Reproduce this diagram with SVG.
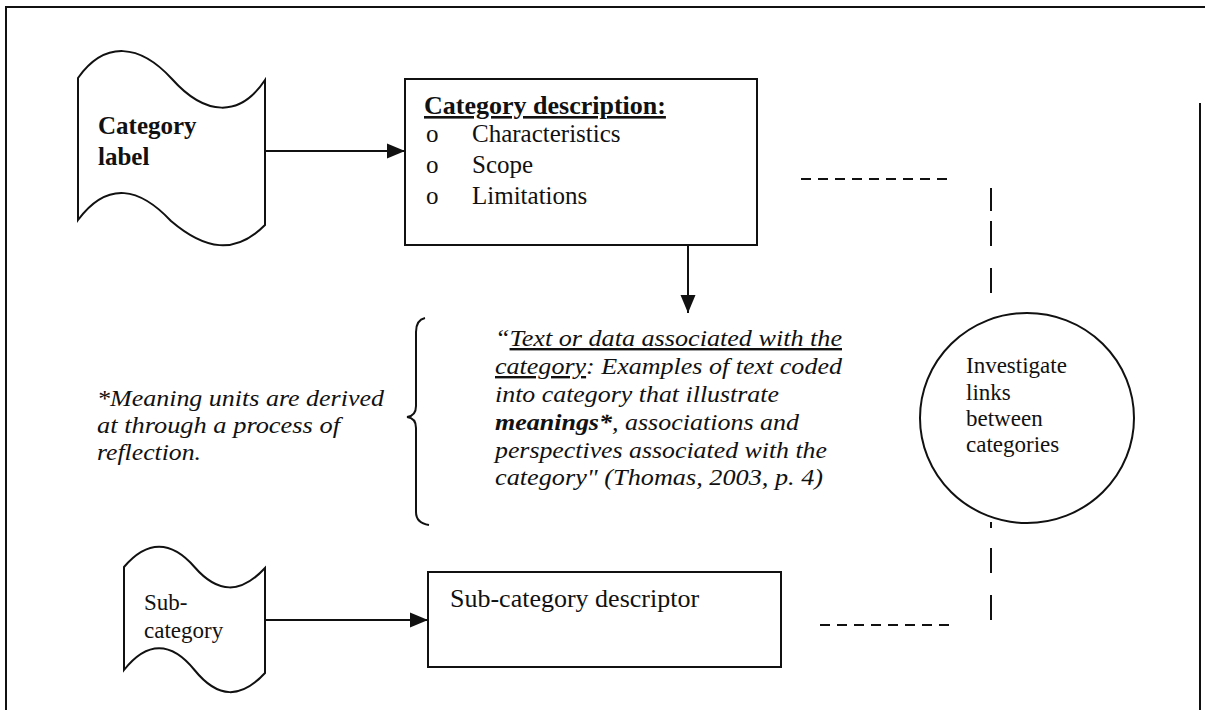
<svg xmlns="http://www.w3.org/2000/svg" width="1205" height="710" viewBox="0 0 1205 710">
<defs>
<style>
.shape{fill:#fff;stroke:#111;stroke-width:2}
.line{fill:none;stroke:#111;stroke-width:2}
.dash{fill:none;stroke:#111;stroke-width:2;stroke-dasharray:10 7}
.t{font-family:"Liberation Serif","Times New Roman",serif;fill:#111}
.it{font-style:italic;font-size:24px}
.b{font-weight:bold}
</style>
<marker id="ah" markerUnits="userSpaceOnUse" markerWidth="18" markerHeight="16" refX="18" refY="8" orient="auto">
<path d="M0,0.5 L18,8 L0,15.5 z" fill="#111"/>
</marker>
</defs>
<rect width="1205" height="710" fill="#fff"/>
<g id="frame" class="line">
<path d="M6,710 L6,7 L1205,7"/>
<path d="M1200,103 L1200,710"/>
</g>
<g id="category-label">
<path class="shape" d="M78,78 C105,40 140,44 172,79 C205,116 240,118 265,80 L265,225 C235,255 205,250 171,221 C140,188 108,180 78,220 Z"/>
<text class="t b" font-size="25" x="98" y="134">Category</text>
<text class="t b" font-size="25" x="98" y="165">label</text>
</g>
<g id="category-description">
<rect class="shape" x="405" y="79" width="352" height="166"/>
<text class="t b" font-size="26" x="424" y="114" text-decoration="underline">Category description:</text>
<text class="t" font-size="25" x="426" y="142">o</text>
<text class="t" font-size="25" x="472" y="142">Characteristics</text>
<text class="t" font-size="25" x="426" y="173">o</text>
<text class="t" font-size="25" x="472" y="173">Scope</text>
<text class="t" font-size="25" x="426" y="204">o</text>
<text class="t" font-size="25" x="472" y="204">Limitations</text>
</g>
<g id="quote">
<path class="line" d="M425,318 Q416,320 416,332 L416,406 Q416,416 407,417 Q416,418 416,428 L416,512 Q416,523 429,525"/>
<text class="t it" x="495" y="346" textLength="347" lengthAdjust="spacingAndGlyphs">“<tspan text-decoration="underline">Text or data associated with the</tspan></text>
<text class="t it" x="495" y="374" textLength="347" lengthAdjust="spacingAndGlyphs"><tspan text-decoration="underline">category</tspan>: Examples of text coded</text>
<text class="t it" x="495" y="402" textLength="284" lengthAdjust="spacingAndGlyphs">into category that illustrate</text>
<text class="t it" x="495" y="430" textLength="304" lengthAdjust="spacingAndGlyphs"><tspan font-weight="bold">meanings*</tspan>, associations and</text>
<text class="t it" x="495" y="458" textLength="332" lengthAdjust="spacingAndGlyphs">perspectives associated with the</text>
<text class="t it" x="495" y="485" textLength="328" lengthAdjust="spacingAndGlyphs">category" (Thomas, 2003, p. 4)</text>
</g>
<g id="meaning-note">
<text class="t it" x="97" y="406" textLength="287" lengthAdjust="spacingAndGlyphs">*Meaning units are derived</text>
<text class="t it" x="97" y="433" textLength="243" lengthAdjust="spacingAndGlyphs">at through a process of</text>
<text class="t it" x="97" y="460" textLength="104" lengthAdjust="spacingAndGlyphs">reflection.</text>
</g>
<g id="investigate-links">
<ellipse class="shape" cx="1027" cy="418" rx="107" ry="105"/>
<text class="t" font-size="23" x="966" y="373">Investigate</text>
<text class="t" font-size="23" x="966" y="400">links</text>
<text class="t" font-size="23" x="966" y="426">between</text>
<text class="t" font-size="23" x="966" y="452">categories</text>
</g>
<g id="sub-category">
<path class="shape" d="M124,567 C147,540 171,540 194.5,567 C218,594 241,594 265,568 L265,673 C241,699 218,699 194.5,670 C171,641 147,641 124,670 Z"/>
<text class="t" font-size="23" x="144" y="610">Sub-</text>
<text class="t" font-size="23" x="144" y="638">category</text>
</g>
<g id="sub-category-descriptor">
<rect class="shape" x="428" y="572" width="353" height="95"/>
<text class="t" font-size="26" x="450" y="607">Sub-category descriptor</text>
</g>
<g id="connectors">
<path class="line" d="M265,151 L405,151" marker-end="url(#ah)"/>
<path class="line" d="M688,245 L688,313" marker-end="url(#ah)"/>
<path class="line" d="M265,620 L428,620" marker-end="url(#ah)"/>
<path class="dash" d="M801,179 L954,179"/>
<path class="line" d="M991,188 V211 M991,221 V246 M991,268 V293"/>
<path class="dash" d="M820,625 L954,625"/>
<path class="line" d="M991,522 V528 M991,548 V573 M991,595 V620"/>
</g>
</svg>
